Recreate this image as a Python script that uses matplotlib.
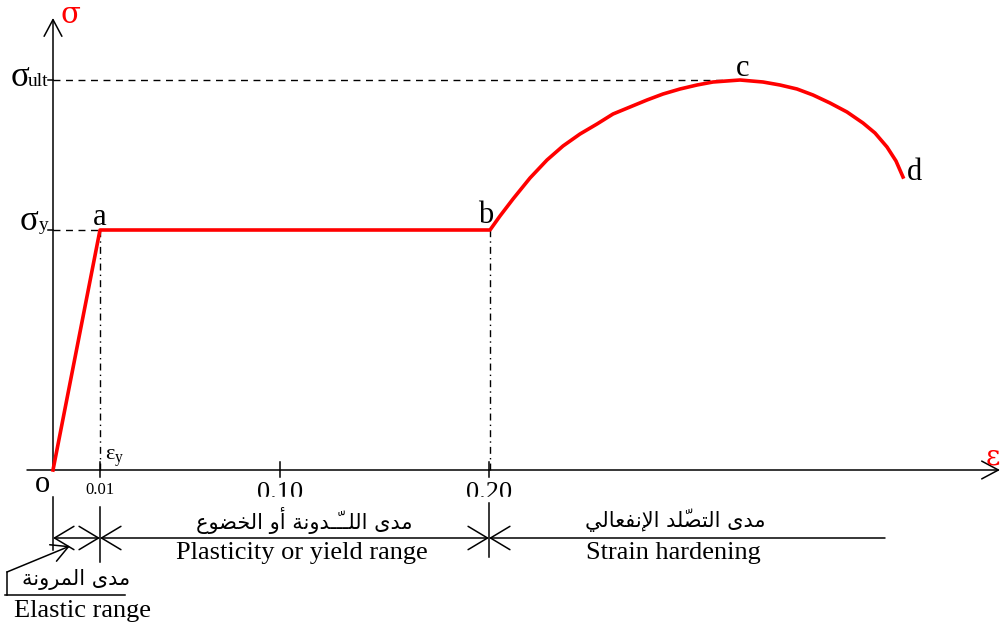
import matplotlib.pyplot as plt
from matplotlib.patches import Rectangle

plt.rcParams['font.family'] = ['Liberation Serif', 'DejaVu Sans']
plt.rcParams['mathtext.fontset'] = 'custom'
plt.rcParams['mathtext.rm'] = 'Liberation Serif'
plt.rcParams['mathtext.it'] = 'Liberation Serif'

# Stress-strain curve in schematic units (strain along x, stress along y)
curve_x = [0, 47, 437, 447, 460, 477, 494, 510, 527, 544, 560, 577, 594, 610, 627,
           644, 660, 687, 710, 727, 744, 760, 777, 794, 810, 822, 834, 843, 850]
curve_y = [0, 240, 240, 254, 271, 292, 310, 324, 336, 346, 356, 363, 370, 376, 381,
           385, 388, 390, 388, 385, 381, 375, 367, 358, 347, 337, 323, 309, 293]
point_names = ['a', 'b', 'c', 'd']
point_index = [1, 2, 17, 28]

sigma_y = 240
sigma_ult = 390

tick_x = [47, 227, 436]
tick_labels = ['0.01', '0.10', '0.20']

# range boundaries: elastic | plastic | strain hardening
range_edges = [0, 47, 436, 832]
range_en = ['Elastic range', 'Plasticity or yield range', 'Strain hardening']
range_ar = ['مدى المرونة', 'مدى اللـــّدونة أو الخضوع', 'مدى التصلّد الإنفعالي']

# --- minimal Arabic shaping (matplotlib draws glyphs left to right, unshaped)
FORMS = {
    'ا': (0xFE8D, 0xFE8E), 'أ': (0xFE83, 0xFE84), 'إ': (0xFE87, 0xFE88),
    'ة': (0xFE93, 0xFE94), 'د': (0xFEA9, 0xFEAA), 'ر': (0xFEAD, 0xFEAE),
    'و': (0xFEED, 0xFEEE), 'ى': (0xFEEF, 0xFEF0),
    'ت': (0xFE95, 0xFE96, 0xFE97, 0xFE98), 'خ': (0xFEA5, 0xFEA6, 0xFEA7, 0xFEA8),
    'ص': (0xFEB9, 0xFEBA, 0xFEBB, 0xFEBC), 'ض': (0xFEBD, 0xFEBE, 0xFEBF, 0xFEC0),
    'ع': (0xFEC9, 0xFECA, 0xFECB, 0xFECC), 'ف': (0xFED1, 0xFED2, 0xFED3, 0xFED4),
    'ل': (0xFEDD, 0xFEDE, 0xFEDF, 0xFEE0), 'م': (0xFEE1, 0xFEE2, 0xFEE3, 0xFEE4),
    'ن': (0xFEE5, 0xFEE6, 0xFEE7, 0xFEE8), 'ي': (0xFEF1, 0xFEF2, 0xFEF3, 0xFEF4),
}
LAM_ALEF = {'ا': (0xFEFB, 0xFEFC), 'أ': (0xFEF7, 0xFEF8), 'إ': (0xFEF9, 0xFEFA)}
MARKS = {'\u0651'}
TATWEEL = '\u0640'


def joins_left(ch):
    return ch == TATWEEL or (ch in FORMS and len(FORMS[ch]) == 4)


def joins(ch):
    return ch == TATWEEL or ch in FORMS


def shape(text):
    toks = []
    for ch in text:
        if ch in MARKS and toks:
            toks[-1][1] += ch
        else:
            toks.append([ch, ''])
    out = []
    i = 0
    while i < len(toks):
        ch, marks = toks[i]
        prev = toks[i - 1][0] if i > 0 else ' '
        nxt = toks[i + 1][0] if i + 1 < len(toks) else ' '
        after_prev = joins_left(prev)
        if ch == 'ل' and nxt in LAM_ALEF:
            out.append(chr(LAM_ALEF[nxt][after_prev]) + marks + toks[i + 1][1])
            i += 2
            continue
        if ch in FORMS:
            f = FORMS[ch]
            to_next = len(f) == 4 and joins(nxt)
            g = chr(f[(1 if after_prev else 0) + (2 if to_next else 0)])
        else:
            g = ch
        out.append(g + marks)
        i += 1
    return ''.join(reversed(out))


fig = plt.figure(figsize=(10.01, 6.30), dpi=100)
ax = fig.add_axes([0, 0, 1, 1])
ax.set_xlim(-53, 948)
ax.set_ylim(-160, 470)
ax.axis('off')

blk = dict(color='black', lw=1.1)


def arrow(x0, y0, x1, y1, style='->', **kw):
    ax.annotate('', xy=(x1, y1), xytext=(x0, y0),
                arrowprops=dict(arrowstyle=style, lw=1.1, color='black',
                                shrinkA=0, shrinkB=0, mutation_scale=20, **kw))


hs = '->, head_length=0.6, head_width=0.32'
hs_dim = '->, head_length=0.7, head_width=0.42'
hs2 = '<->, head_length=0.7, head_width=0.42'

# axes
arrow(0, 0, 0, 452, hs)
arrow(-26, 0, 947, 0, hs)
ax.text(17, 455, 'σ', color='red', fontsize=21, ha='center', va='center',
        family=['DejaVu Serif'])
ax.text(933, 13, 'ε', color='red', fontsize=20, ha='left', va='center',
        family=['DejaVu Serif'])

# stress levels
ax.plot([0, curve_x[point_index[2]]], [sigma_ult, sigma_ult], color='black', lw=1,
        ls=(0, (5, 4)))
ax.plot([0, curve_x[point_index[0]]], [sigma_y, sigma_y], color='black', lw=1,
        ls=(0, (5, 4)))
for yv in (sigma_y, sigma_ult):
    ax.plot([-5, 0], [yv, yv], **blk)
ax.text(-24, 384, 'σ', fontsize=25, ha='right', va='baseline')
ax.text(-25, 384, 'ult', fontsize=14, ha='left', va='baseline')
ax.text(-15, 240, 'σ', fontsize=25, ha='right', va='baseline')
ax.text(-14, 240, 'y', fontsize=14, ha='left', va='baseline')

# strain projections
for xv in (curve_x[point_index[0]], curve_x[point_index[1]]):
    ax.plot([xv, xv], [0, sigma_y], color='black', lw=1, ls=(0, (5, 3, 1, 3)))

# x ticks
for xv, lab in zip(tick_x, tick_labels):
    ax.plot([xv, xv], [-7, 8], **blk)
    fs = 12 if lab == '0.01' else 19
    ax.text(xv, -12, lab, fontsize=fs, ha='center', va='top', zorder=1)
ax.add_patch(Rectangle((150, -40), 360, 13, color='white', zorder=2))
ax.text(-11, -15, 'o', fontsize=22, ha='center', va='center')
ax.text(52, 12, r'$ε_{\mathrm{y}}$', fontsize=16, ha='left', va='center')

# curve
ax.plot(curve_x, curve_y, color='red', lw=2.6, solid_joinstyle='round', zorder=5)
offsets = [(0, 5, 'center'), (-4, 7, 'center'), (3, 4, 'center'), (4, -3, 'left')]
for name, idx, (dx, dy, ha) in zip(point_names, point_index, offsets):
    ax.text(curve_x[idx] + dx, curve_y[idx] + dy, name, fontsize=22, ha=ha,
            va='baseline', zorder=6)

# range dimension lines
dim_y = -68
for xv, (y0, y1) in zip(range_edges[:3], [(-27, -80), (-37, -92), (-33, -87)]):
    ax.plot([xv, xv], [y0, y1], zorder=4, **blk)
arrow(range_edges[0], dim_y, range_edges[1], dim_y, hs2)
arrow(range_edges[1], dim_y, range_edges[2], dim_y, hs2)
arrow(range_edges[3], dim_y, range_edges[2], dim_y, hs_dim)

ax.text(251, -50, shape(range_ar[1]), fontsize=15, ha='center', va='center',
        family=['DejaVu Sans'])
ax.text(249, -83, range_en[1], fontsize=19, ha='center', va='center')
ax.text(622, -50, shape(range_ar[2]), fontsize=15, ha='center', va='center',
        family=['DejaVu Sans'])
ax.text(620, -83, range_en[2], fontsize=19, ha='center', va='center')

# elastic range callout
ax.plot([-48, 72], [-125, -125], **blk)
ax.plot([-46, -46], [-125, -102], **blk)
arrow(-46, -102, 17, -76, hs)
ax.text(23, -109, shape(range_ar[0]), fontsize=15, ha='center', va='center',
        family=['DejaVu Sans'])
ax.text(29, -141, range_en[0], fontsize=19, ha='center', va='center')

fig.savefig('out.png', dpi=100)
